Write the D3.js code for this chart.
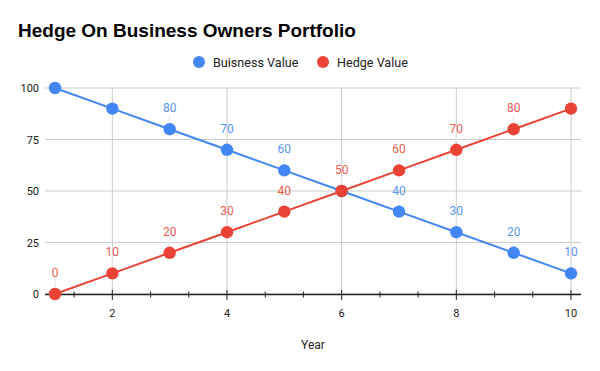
<!DOCTYPE html>
<html><head><meta charset="utf-8">
<script src="https://cdn.jsdelivr.net/npm/d3@7"></script>
<style>body{margin:0;background:#fff}svg{display:block}</style>
</head><body><svg id="c" width="600" height="371"></svg>
<script>
const years = [1,2,3,4,5,6,7,8,9,10];
const businessValue = [100,90,80,70,60,50,40,30,20,10];
const hedgeValue = [0,10,20,30,40,50,60,70,80,90];
const businessLabelYears = [3,4,5,7,8,9,10];
const hedgeLabelYears = [1,2,3,4,5,6,7,8,9];
const yTicks = [0,25,50,75,100];
const xTicks = [2,4,6,8,10];
const xMinorTicks = [1.333,2.667,3.333,4.667,5.333,6.667,7.333,8.667,9.333];
const seriesNames = ["Buisness Value","Hedge Value"];
const colors = ["#4285f4","#ea4335"];

const svg = d3.select("#c");
const x = d3.scaleLinear().domain([1,10]).range([55,571]);
const y = d3.scaleLinear().domain([0,100]).range([294,88]);
const font = "Roboto, Arial, sans-serif";

svg.append("text").attr("x",18).attr("y",37).text("Hedge On Business Owners Portfolio")
  .attr("font-family","'Liberation Sans', Arial, sans-serif").attr("font-weight","bold").attr("font-size",19).attr("fill","#000");

// legend
const legX = [199, 323];
seriesNames.forEach((n,i)=>{
  svg.append("circle").attr("cx",legX[i]).attr("cy",62).attr("r",6).attr("fill",colors[i]);
  svg.append("text").attr("x",legX[i]+14).attr("y",66.5).text(n).attr("font-family",font).attr("font-size",12.6).attr("fill","#222");
});

// gridlines
svg.append("g").selectAll("line").data(yTicks).join("line")
  .attr("x1",45).attr("x2",581).attr("y1",d=>y(d)).attr("y2",d=>y(d)).attr("stroke","#ccc").attr("stroke-width",1);
svg.append("g").selectAll("line").data(xTicks).join("line")
  .attr("x1",d=>x(d)).attr("x2",d=>x(d)).attr("y1",88).attr("y2",294).attr("stroke","#ccc").attr("stroke-width",1);

// y labels
svg.append("g").selectAll("text").data(yTicks).join("text")
  .attr("x",39).attr("y",d=>y(d)+4).attr("text-anchor","end").text(d=>d)
  .attr("font-family",font).attr("font-size",11).attr("fill","#222");

// x axis line
svg.append("line").attr("x1",45).attr("x2",581).attr("y1",294.5).attr("y2",294.5).attr("stroke","#222").attr("stroke-width",1.3);
svg.append("g").selectAll("line").data(xTicks).join("line")
  .attr("x1",d=>x(d)).attr("x2",d=>x(d)).attr("y1",290).attr("y2",300).attr("stroke","#222").attr("stroke-width",1);
svg.append("g").selectAll("line").data(xMinorTicks).join("line")
  .attr("x1",d=>x(d)).attr("x2",d=>x(d)).attr("y1",291.5).attr("y2",297.5).attr("stroke","#222").attr("stroke-width",1);
svg.append("g").selectAll("text").data(xTicks).join("text")
  .attr("x",d=>x(d)).attr("y",317).attr("text-anchor","middle").text(d=>d)
  .attr("font-family",font).attr("font-size",11).attr("fill","#222");
svg.append("text").attr("x",313).attr("y",349).attr("text-anchor","middle").text("Year")
  .attr("font-family",font).attr("font-size",12).attr("fill","#222");

const series = [businessValue, hedgeValue];
const labelYears = [businessLabelYears, hedgeLabelYears];
const line = d3.line().x(d=>x(d[0])).y(d=>y(d[1]));
// leader lines
series.forEach((vals,i)=>{
  const pts = years.map((yr,j)=>[yr,vals[j]]).filter(p=>labelYears[i].includes(p[0]));
  svg.append("g").selectAll("line").data(pts).join("line")
    .attr("x1",d=>x(d[0])).attr("x2",d=>x(d[0])).attr("y1",d=>y(d[1])-15).attr("y2",d=>y(d[1])-4)
    .attr("stroke","#e8e8e8").attr("stroke-width",1);
});
series.forEach((vals,i)=>{
  const pts = years.map((yr,j)=>[yr,vals[j]]);
  svg.append("path").datum(pts).attr("d",line).attr("fill","none").attr("stroke",colors[i]).attr("stroke-width",2);
});
series.forEach((vals,i)=>{
  const pts = years.map((yr,j)=>[yr,vals[j]]);
  svg.append("g").selectAll("circle").data(pts).join("circle")
    .attr("cx",d=>x(d[0])).attr("cy",d=>y(d[1])).attr("r",6.2).attr("fill",colors[i]);
});
series.forEach((vals,i)=>{
  const pts = years.map((yr,j)=>[yr,vals[j]]).filter(p=>labelYears[i].includes(p[0]));
  svg.append("g").selectAll("text").data(pts).join("text")
    .attr("x",d=>x(d[0])).attr("y",d=>y(d[1])-17).attr("text-anchor","middle").text(d=>d[1])
    .attr("font-family",font).attr("font-size",12).attr("fill",colors[i]).attr("fill-opacity",0.9);
});
</script></body></html>
